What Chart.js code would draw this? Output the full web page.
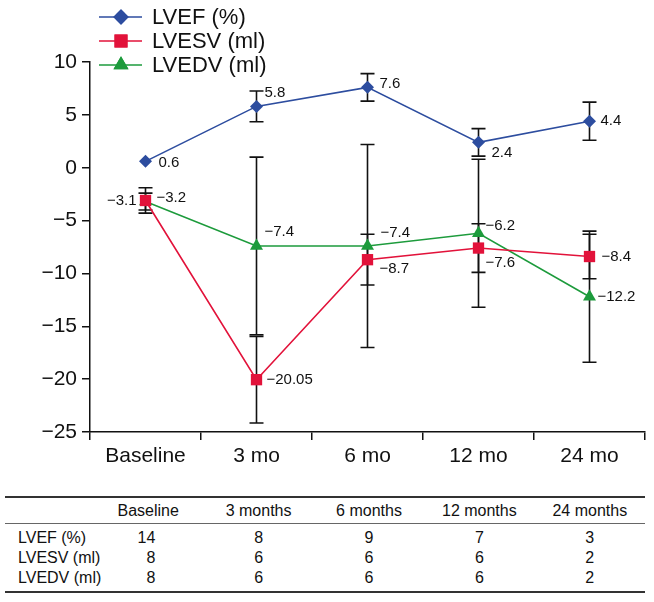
<!DOCTYPE html>
<html>
<head>
<meta charset="utf-8">
<script src="https://cdn.jsdelivr.net/npm/chart.js@4"></script>
<style>
body{margin:0;background:#fff;font-family:"Liberation Sans",Arial,sans-serif;}
#wrap{position:relative;width:654px;height:602px;overflow:hidden;}
#myChart{position:absolute;left:0;top:0;}
#tbl{position:absolute;left:5px;top:496px;width:640px;border-collapse:collapse;table-layout:fixed;font-size:16px;color:#111;
  border-top:2px solid #333;border-bottom:2px solid #333;}
#tbl th{font-weight:normal;height:25px;padding:0;border-bottom:1px solid #666;text-align:center;white-space:nowrap;}
#tbl td{padding:0;height:20px;line-height:20px;text-align:center;white-space:nowrap;overflow:visible;}
#tbl td.lab{text-align:left;padding-left:13px;}
#tbl tbody tr:first-child td{padding-top:4px;}
#tbl tbody tr:last-child td{padding-bottom:3px;}
</style>
</head>
<body>
<div id="wrap">
<canvas id="myChart" width="654" height="480"></canvas>
<table id="tbl"></table>
</div>
<script>
// chart data
const categories = ['Baseline', '3 mo', '6 mo', '12 mo', '24 mo'];
const lvef = [0.6, 5.8, 7.6, 2.4, 4.4];
const lvefErr = [0, 1.45, 1.3, 1.3, 1.8];
const lvesv = [-3.1, -20.05, -8.7, -7.6, -8.4];
const lvesvErr = [1.2, 4.1, 2.4, 2.3, 2.1];
const lvedv = [-3.2, -7.4, -7.4, -6.2, -12.2];
const lvedvErr = [0.8, 8.4, 9.6, 7.0, 6.2];
const yTicks = [-25, -20, -15, -10, -5, 0, 5, 10];

// table under the chart
const tableCols = ['Baseline', '3 months', '6 months', '12 months', '24 months'];
const tableRows = ['LVEF (%)', 'LVESV (ml)', 'LVEDV (ml)'];
const nLvef = [14, 8, 9, 7, 3];
const nLvesv = [8, 6, 6, 6, 2];
const nLvedv = [8, 6, 6, 6, 2];

const blue = '#2d4d9f', red = '#e2123a', green = '#1d9b3c';

// label offsets [dx, dy, align] per point
const labelPos = [
    [[13, 1, 'left'], [8, -14, 'left'], [12, -4, 'left'], [13, 11, 'left'], [11, 0, 'left']],
    [[-9, 0, 'right'], [10, 0, 'left'], [12, 9, 'left'], [7, 15, 'left'], [12, 0, 'left']],
    [[11, -4, 'left'], [8, -14, 'left'], [13, -13, 'left'], [7, -7, 'left'], [8, 0, 'left']]
];
const errs = [lvefErr, lvesvErr, lvedvErr];

function minus(v){ return String(v).replace('-', '\u2212'); }

const errorBars = {
    id: 'errorBars',
    beforeDatasetsDraw(chart){
        const ctx = chart.ctx, y = chart.scales.y;
        ctx.save();
        ctx.strokeStyle = '#111';
        ctx.lineWidth = 1.6;
        chart.data.datasets.forEach((ds, i) => {
            const meta = chart.getDatasetMeta(i);
            ds.data.forEach((v, j) => {
                const e = errs[i][j];
                if (!e) return;
                const x = meta.data[j].x;
                const y1 = y.getPixelForValue(v + e), y2 = y.getPixelForValue(v - e);
                ctx.beginPath();
                ctx.moveTo(x, y1); ctx.lineTo(x, y2);
                ctx.moveTo(x - 7, y1); ctx.lineTo(x + 7, y1);
                ctx.moveTo(x - 7, y2); ctx.lineTo(x + 7, y2);
                ctx.stroke();
            });
        });
        ctx.restore();
    }
};

const pointLabels = {
    id: 'pointLabels',
    afterDatasetsDraw(chart){
        const ctx = chart.ctx;
        ctx.save();
        ctx.font = '15px "Liberation Sans", Arial, sans-serif';
        ctx.fillStyle = '#111';
        ctx.textBaseline = 'middle';
        chart.data.datasets.forEach((ds, i) => {
            const meta = chart.getDatasetMeta(i);
            ds.data.forEach((v, j) => {
                const p = labelPos[i][j];
                ctx.textAlign = p[2];
                ctx.fillText(minus(v), meta.data[j].x + p[0], meta.data[j].y + p[1]);
            });
        });
        ctx.restore();
    }
};

const topLegend = {
    id: 'topLegend',
    afterDraw(chart){
        const ctx = chart.ctx;
        ctx.save();
        chart.data.datasets.forEach((ds, i) => {
            const yy = 17 + i * 24;
            ctx.strokeStyle = ds.borderColor;
            ctx.lineWidth = 1.6;
            ctx.beginPath(); ctx.moveTo(99, yy); ctx.lineTo(142, yy); ctx.stroke();
            ctx.fillStyle = ds.backgroundColor;
            Chart.helpers.drawPoint(ctx, {pointStyle: ds.pointStyle, radius: ds.pointRadius + 1.2, rotation: 0, borderWidth: 0}, 121, yy);
            ctx.fill();
            ctx.fillStyle = '#111';
            ctx.font = '22px "Liberation Sans", Arial, sans-serif';
            ctx.textBaseline = 'middle';
            ctx.textAlign = 'left';
            ctx.fillText(ds.label, 152, yy + 1);
        });
        ctx.restore();
    }
};

function mkSet(label, data, color, style, r){
    return {
        label: label, data: data,
        borderColor: color, backgroundColor: color,
        borderWidth: 1.6, pointStyle: style, pointRadius: r,
        pointBorderWidth: 0, pointBackgroundColor: color,
        tension: 0
    };
}

var ctx = document.getElementById('myChart').getContext('2d');
var chart = new Chart(ctx, {
    type: 'line',
    data: {
        labels: categories,
        datasets: [
            mkSet('LVEF (%)', lvef, blue, 'rectRot', 6.5),
            mkSet('LVESV (ml)', lvesv, red, 'rect', 8),
            mkSet('LVEDV (ml)', lvedv, green, 'triangle', 7.5)
        ]
    },
    options: {
        responsive: false,
        animation: false,
        layout: {padding: {top: 62, right: 9, left: 0, bottom: 0}},
        plugins: {legend: {display: false}, tooltip: {enabled: false}},
        scales: {
            x: {
                offset: true,
                grid: {offset: true, drawOnChartArea: false, tickLength: 8, color: '#111', lineWidth: 1.5},
                border: {color: '#111', width: 1.5},
                ticks: {font: {size: 21, family: '"Liberation Sans", Arial, sans-serif'}, color: '#111', padding: 4},
                afterFit(s){ s.height = 48; }
            },
            y: {
                min: -25, max: 10,
                afterBuildTicks(s){ s.ticks = yTicks.map(v => ({value: v})); },
                grid: {drawOnChartArea: false, tickLength: 8, color: '#111', lineWidth: 1.5},
                border: {color: '#111', width: 1.5},
                ticks: {font: {size: 21, family: '"Liberation Sans", Arial, sans-serif'}, color: '#111', padding: 5,
                    callback: v => minus(v)},
                afterFit(s){ s.width = 90; }
            }
        }
    },
    plugins: [errorBars, pointLabels, topLegend]
});

// build table
const tbl = document.getElementById('tbl');
let html = '<colgroup><col style="width:88px">' + tableCols.map(() => '<col style="width:110.4px">').join('') + '</colgroup>';
html += '<thead><tr><th></th>' + tableCols.map(c => '<th>' + c + '</th>').join('') + '</tr></thead><tbody>';
[nLvef, nLvesv, nLvedv].forEach((row, i) => {
    html += '<tr><td class="lab">' + tableRows[i] + '</td>' +
        row.map((v, j) => j === 0 ? '<td style="text-align:right;padding-right:48px">' + v + '</td>' : '<td>' + v + '</td>').join('') + '</tr>';
});
html += '</tbody>';
tbl.innerHTML = html;
</script>
</body>
</html>
